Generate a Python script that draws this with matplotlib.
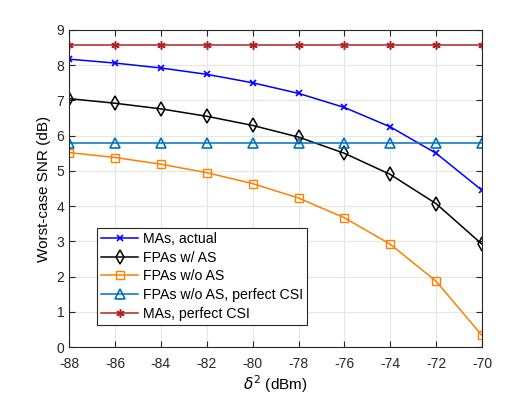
import matplotlib.pyplot as plt

plt.rcParams['font.family'] = ['Liberation Sans', 'DejaVu Sans']
plt.rcParams['axes.unicode_minus'] = False

noise = [-88, -86, -84, -82, -80, -78, -76, -74, -72, -70]
ma_actual = [8.17, 8.06, 7.92, 7.74, 7.50, 7.20, 6.80, 6.25, 5.50, 4.45]
fpa_as = [7.05, 6.92, 6.76, 6.55, 6.29, 5.96, 5.50, 4.90, 4.07, 2.92]
fpa_noas = [5.52, 5.38, 5.19, 4.95, 4.64, 4.23, 3.67, 2.92, 1.87, 0.33]
fpa_noas_csi = [5.78] * 10
ma_csi = [8.58] * 10

fig = plt.figure(figsize=(5.32, 3.99), dpi=100)
ax = fig.add_axes([0.13, 0.13, 0.776, 0.795])

ax.plot(noise, ma_actual, color='#0000ff', marker='x', ms=5, lw=1.1, mew=1.2,
        label='MAs, actual')
ax.plot(noise, fpa_as, color='black', marker='d', ms=7, mfc='none', lw=1.1,
        mew=1.1, label='FPAs w/ AS')
ax.plot(noise, fpa_noas, color='#ff8000', marker='s', ms=5.5, mfc='none', lw=1.1,
        mew=1.0, label='FPAs w/o AS')
ax.plot(noise, fpa_noas_csi, color='#0072bd', marker='^', ms=7, mfc='none', lw=1.1,
        mew=1.2, label='FPAs w/o AS, perfect CSI')
ax.plot(noise, ma_csi, color='#b22222', marker=(6, 2, 0), ms=6, lw=1.1, mew=1.1,
        label='MAs, perfect CSI')

ax.set_xlim(-88, -70)
ax.set_ylim(0, 9)
ax.set_xticks(range(-88, -69, 2))
ax.set_yticks(range(0, 10))
ax.grid(True, color='#e6e6e6', lw=0.8)
ax.set_axisbelow(True)
for s in ax.spines.values():
    s.set_color('#262626')
    s.set_linewidth(0.8)
ax.tick_params(direction='in', length=4, labelsize=10, colors='#262626',
               top=True, right=True)
ax.tick_params(axis='x', pad=7)
ax.set_xlabel(r'$\delta^2$ (dBm)', fontsize=11, labelpad=2)
ax.set_ylabel('Worst-case SNR (dB)', fontsize=11)

leg = ax.legend(loc='lower left', bbox_to_anchor=(0.068, 0.07), fontsize=10.2,
                fancybox=False, framealpha=1, edgecolor='#262626',
                borderpad=0.3, labelspacing=0.33, handlelength=2.6,
                handletextpad=0.3, borderaxespad=0)
leg.get_frame().set_linewidth(0.8)

fig.savefig('out.png', dpi=100)
